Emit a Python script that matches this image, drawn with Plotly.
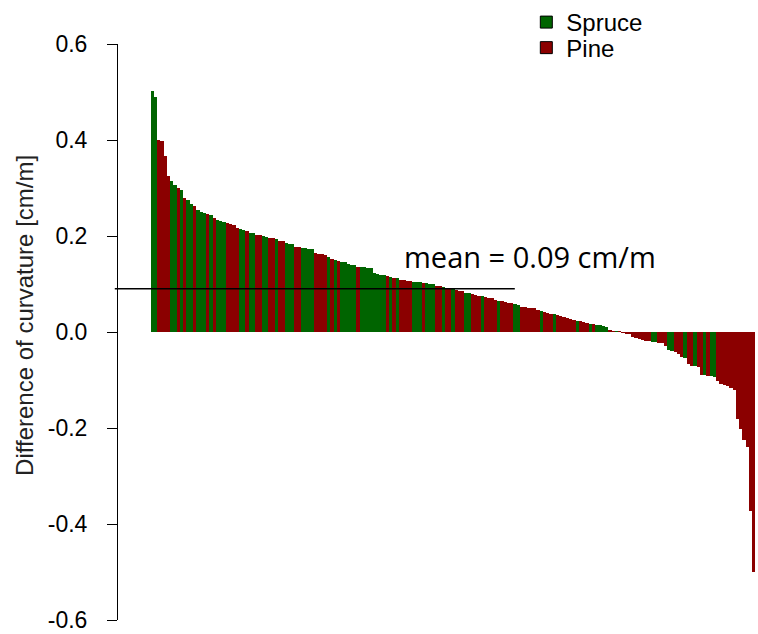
import plotly.graph_objects as go

# ---- data (sorted descending) ----
values = [
    0.503, 0.490, 0.400, 0.397, 0.367, 0.324, 0.315, 0.307, 0.299, 0.295,
    0.280, 0.275, 0.267, 0.262, 0.255, 0.250, 0.248, 0.245, 0.243, 0.238,
    0.234, 0.232, 0.230, 0.227, 0.226, 0.222, 0.217, 0.215, 0.213, 0.210,
    0.207, 0.206, 0.203, 0.202, 0.199, 0.198, 0.196, 0.195, 0.193, 0.190,
    0.189, 0.185, 0.184, 0.183, 0.178, 0.177, 0.176, 0.175, 0.173, 0.172,
    0.164, 0.163, 0.162, 0.160, 0.156, 0.153, 0.149, 0.148, 0.146, 0.145,
    0.142, 0.140, 0.139, 0.136, 0.135, 0.135, 0.134, 0.133, 0.122, 0.121,
    0.119, 0.118, 0.116, 0.115, 0.113, 0.112, 0.109, 0.108, 0.107, 0.106,
    0.105, 0.104, 0.104, 0.103, 0.102, 0.101, 0.099, 0.096, 0.095, 0.093,
    0.092, 0.090, 0.089, 0.087, 0.085, 0.085, 0.082, 0.082, 0.079, 0.078,
    0.076, 0.076, 0.072, 0.071, 0.070, 0.067, 0.065, 0.064, 0.062, 0.061,
    0.060, 0.058, 0.057, 0.053, 0.052, 0.051, 0.050, 0.049, 0.045, 0.044,
    0.041, 0.040, 0.038, 0.037, 0.035, 0.033, 0.032, 0.029, 0.028, 0.025,
    0.023, 0.022, 0.021, 0.019, 0.017, 0.016, 0.015, 0.014, 0.012, 0.010,
    0.004, 0.002, 0.001, 0.001, -0.001, -0.003, -0.004, -0.011, -0.012, -0.015,
    -0.016, -0.019, -0.019, -0.020, -0.021, -0.022, -0.023, -0.029, -0.038, -0.040,
    -0.042, -0.046, -0.053, -0.054, -0.066, -0.070, -0.071, -0.073, -0.089, -0.090,
    -0.091, -0.092, -0.093, -0.103, -0.109, -0.111, -0.112, -0.117, -0.120, -0.182,
    -0.203, -0.226, -0.240, -0.373, -0.500,
]
species_codes = (
    "SSPPPPSSPS" "PSSPSSSPSP" "SSSPPPPSSP" "SSPPSSPPSP" "PSSSPPSSSS"
    "PPPPSPSPSS" "SSSPSSSSSS" "SSPSPSPPPP" "SSSPSSSPPS" "PPSPPPSSPP"
    "PSPPPPSPPP" "PSSPPPPPPS" "PPPSPPPPPP" "SPPPSPSSSS" "PPSPPPPPPP"
    "PPPSSPPPSS" "PPPSPPSPPS" "PSSPPPPPPP" "PPPPP"
)
species_names = {"S": "Spruce", "P": "Pine"}
species_colors = {"Spruce": "#006400", "Pine": "#8B0000"}
MEAN = 0.09
y_ticks = [-0.6, -0.4, -0.2, 0.0, 0.2, 0.4, 0.6]

assert len(values) == len(species_codes)
species = [species_names[c] for c in species_codes]
idx = list(range(len(values)))

fig = go.Figure()
for sp in ["Spruce", "Pine"]:
    xs = [i for i in idx if species[i] == sp]
    ys = [values[i] for i in idx if species[i] == sp]
    fig.add_trace(go.Bar(
        x=xs, y=ys, width=1.0, showlegend=False,
        marker=dict(color=species_colors[sp], line=dict(width=0)),
        hoverinfo="skip",
    ))

# legend-only entries (boxes with black outline, as in the reference)
legend_y = {"Spruce": 1.038, "Pine": 0.993}
for k, sp in enumerate(["Spruce", "Pine"]):
    fig.add_trace(go.Bar(
        x=[None], y=[None], name=sp, showlegend=True,
        legend="legend" if k == 0 else "legend2",
        marker=dict(color=species_colors[sp], line=dict(color="black", width=1)),
    ))

leg_common = dict(
    x=0.638, xanchor="left", yanchor="middle",
    font=dict(family="Liberation Sans, Arial", size=24, color="black"),
    bgcolor="rgba(0,0,0,0)", borderwidth=0,
)

n = len(values)
fig.update_layout(
    width=758, height=634, autosize=False,
    margin=dict(l=118, r=0, t=42, b=14, pad=0),
    paper_bgcolor="white", plot_bgcolor="white",
    bargap=0, barmode="overlay",
    showlegend=True,
    legend=dict(y=legend_y["Spruce"], **leg_common),
    legend2=dict(y=legend_y["Pine"], **leg_common),
    xaxis=dict(visible=False, range=[-10.44, n + 0.3]),
    yaxis=dict(
        range=[-0.6, 0.6], tickvals=y_ticks,
        ticktext=[f"{v:.1f}" for v in y_ticks],
        showline=True, linecolor="black", linewidth=1,
        ticks="outside", ticklen=10, tickcolor="black", tickwidth=1,
        showgrid=False, zeroline=False,
        tickfont=dict(family="Liberation Sans, Arial", size=23, color="black"),
        ticklabelstandoff=15,
    ),
    font=dict(family="Liberation Sans, Arial"),
)

# mean line and label
fig.add_shape(type="line", xref="paper", yref="y",
              x0=-0.005, x1=0.62, y0=MEAN, y1=MEAN,
              line=dict(color="black", width=1.5))
fig.add_annotation(xref="paper", yref="y", x=0.444, y=0.157,
                   xanchor="left", yanchor="middle", showarrow=False,
                   text=f"mean = {MEAN:.2f} cm/m",
                   font=dict(family="Open Sans", size=29, color="black"))

# y-axis title
fig.add_annotation(xref="paper", yref="paper", x=-0.1453, y=0.528,
                   xanchor="center", yanchor="middle", showarrow=False,
                   textangle=-90, text="Difference of curvature [cm/m]",
                   font=dict(family="Liberation Sans, Arial", size=24, color="#222222"))

fig.write_html("out.html")
